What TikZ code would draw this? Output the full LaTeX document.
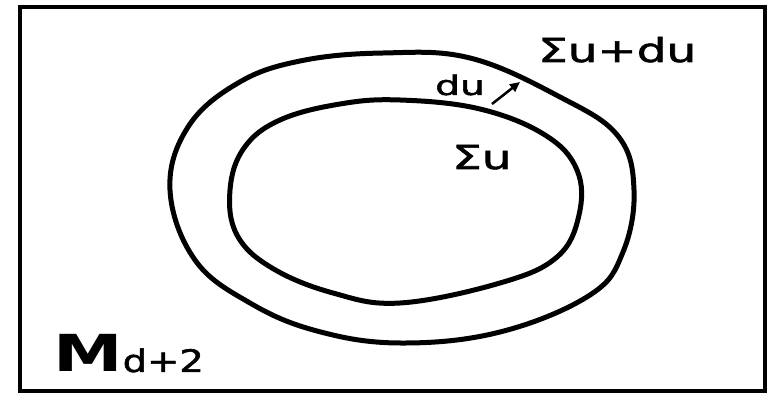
\documentclass[tikz,border=0pt]{standalone}
\usepackage{fontspec}
\setmainfont{DejaVu Sans}
\newfontfamily\semib[FakeBold=1.6]{DejaVu Sans}
\newfontfamily\heavyb{DejaVu Sans Bold}
\usetikzlibrary{arrows.meta}
\begin{document}
\begin{tikzpicture}[x=1pt,y=-1pt,
  curve/.style={line width=5pt,line join=round},
  frame/.style={line width=4pt},
  lbl/.style={inner sep=0pt,anchor=base west}]
\useasboundingbox (0,0) rectangle (769,395);
\fill[white] (0,0) rectangle (769,395);
\draw[frame] (19.5,7) rectangle (765,391);
% outer surface
\draw[curve] plot[smooth cycle,tension=0.65] coordinates {
 (383,53) (470,58) (560,97) (618,136) (634,190) (623,252) (590,295)
 (500,332) (400,343) (317,331) (250,303) (195,260) (170,190) (188,127)
 (238,83) (300,61)};
% inner surface
\draw[curve] plot[smooth cycle,tension=0.65] coordinates {
 (400,100) (480,109) (545,135) (577,170) (579,215) (557,257) (500,283)
 (400,303) (333,293) (272,268) (237,235) (230,190) (244,148) (280,120)
 (340,104)};
\node[lbl] (sud) at (538,62) {\scalebox{1.42}[1]{\fontsize{33}{36}\semib Σu+du}};
\node[lbl] (su) at (452,169) {\scalebox{1.42}[1]{\fontsize{33}{36}\semib Σu}};
\node[lbl] (du) at (435,95) {\scalebox{1.45}[1]{\fontsize{27}{30}\semib du}};
\node[lbl] (m) at (53,372) {\scalebox{1.37}[1]{\fontsize{51}{55}\heavyb M}\scalebox{1.24}[1]{\fontsize{31}{34}\semib d+2}};
\coordinate (a1) at (492,104);
\coordinate (a2) at (520,82);
\draw[line width=2.5pt,-{Triangle[length=10pt,width=9pt]}] (a1) -- (a2);
\end{tikzpicture}
\end{document}
